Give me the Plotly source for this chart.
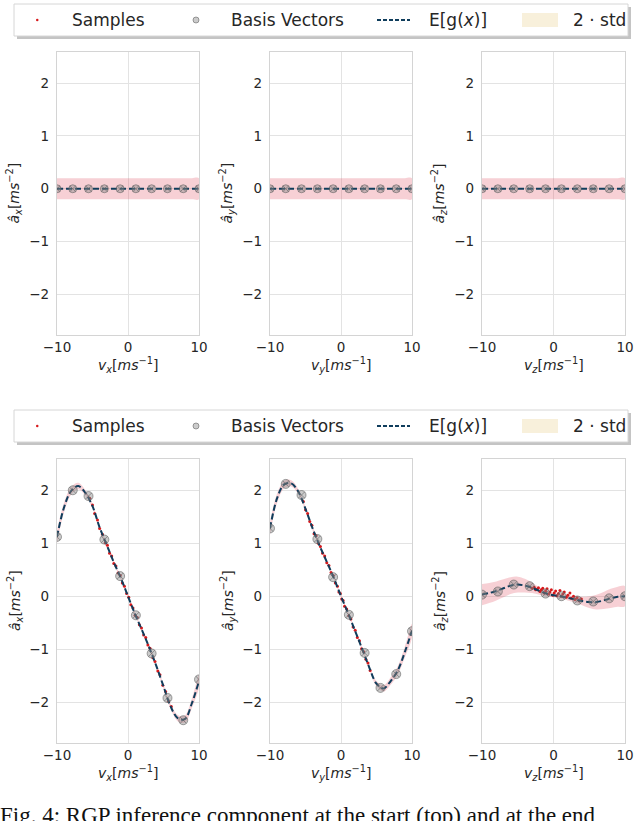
import plotly.graph_objects as go
from plotly.subplots import make_subplots

W, H = 640, 821

# ---- data ----
grid_v = [-10, -9, -8, -7, -6, -5, -4, -3, -2, -1, 0, 1, 2, 3, 4, 5, 6, 7, 8, 9, 10]
basis_v = [-10, -7.78, -5.56, -3.33, -1.11, 1.11, 3.33, 5.56, 7.78, 10]

# start of the run (top row): prior, nothing learned yet
start_mean = [0, 0, 0, 0, 0, 0, 0, 0, 0, 0, 0, 0, 0, 0, 0, 0, 0, 0, 0, 0, 0]
start_std2 = [0.2, 0.2, 0.2, 0.2, 0.2, 0.2, 0.2, 0.2, 0.2, 0.2, 0.2,
              0.2, 0.2, 0.2, 0.2, 0.2, 0.2, 0.2, 0.2, 0.2, 0.2]
start_basis = [0, 0, 0, 0, 0, 0, 0, 0, 0, 0]

# end of the run (bottom row)
end_mean_x = [1.12, 1.68, 1.99, 2.08, 1.95, 1.70, 1.30, 0.97, 0.64, 0.34, 0.0,
              -0.34, -0.65, -0.97, -1.32, -1.70, -2.08, -2.30, -2.32, -2.02, -1.60]
end_mean_y = [1.28, 1.85, 2.11, 2.13, 1.97, 1.65, 1.28, 0.95, 0.65, 0.34, 0.0,
              -0.32, -0.66, -1.00, -1.35, -1.65, -1.74, -1.60, -1.40, -1.05, -0.65]
end_mean_z = [0.03, 0.06, 0.10, 0.15, 0.20, 0.22, 0.20, 0.16, 0.10, 0.05, 0.02,
              0.0, -0.03, -0.06, -0.09, -0.11, -0.11, -0.08, -0.04, -0.01, 0.0]

end_std2_x = [0.12, 0.09, 0.07, 0.06, 0.05, 0.04, 0.04, 0.04, 0.03, 0.03, 0.03,
              0.03, 0.03, 0.03, 0.04, 0.04, 0.05, 0.06, 0.07, 0.09, 0.12]
end_std2_y = [0.12, 0.09, 0.07, 0.06, 0.05, 0.04, 0.04, 0.04, 0.03, 0.03, 0.03,
              0.03, 0.03, 0.03, 0.04, 0.05, 0.06, 0.07, 0.08, 0.10, 0.13]
end_std2_z = [0.20, 0.19, 0.18, 0.17, 0.16, 0.15, 0.13, 0.10, 0.07, 0.05, 0.04,
              0.04, 0.05, 0.06, 0.08, 0.11, 0.14, 0.16, 0.18, 0.19, 0.19]

end_basis_x = [1.12, 2.00, 1.89, 1.07, 0.38, -0.36, -1.08, -1.92, -2.34, -1.57]
end_basis_y = [1.28, 2.12, 1.91, 1.08, 0.36, -0.35, -1.07, -1.73, -1.47, -0.66]
end_basis_z = [0.03, 0.09, 0.22, 0.19, 0.05, 0.00, -0.08, -0.10, -0.04, 0.00]

samp_vx = [-5.4, -5.0, -4.7, -4.3, -4.0, -3.6, -3.2, -2.9, -2.6, -2.3, -2.0, -1.7,
           -1.4, -1.1, -0.8, -0.5, -0.2, 0.1, 0.4, 0.7, 1.0, 1.3, 1.6, 1.9,
           2.2, 2.5, 2.8, 3.1, 3.5, 3.8, 4.2, 4.5, 4.9, 5.3, 5.7, 6.1]
samp_ax = [1.85, 1.72, 1.56, 1.44, 1.28, 1.17, 1.01, 0.96, 0.81, 0.76, 0.62, 0.57,
           0.44, 0.39, 0.25, 0.19, 0.05, -0.02, -0.16, -0.22, -0.36, -0.40, -0.54, -0.60,
           -0.73, -0.78, -0.92, -0.98, -1.16, -1.23, -1.41, -1.48, -1.68, -1.80, -1.98, -2.08]

samp_vy = [-5.3, -5.0, -4.7, -4.4, -4.1, -3.8, -3.5, -3.2, -2.9, -2.6, -2.3, -2.0,
           -1.7, -1.4, -1.1, -0.8, -0.5, -0.3, -0.1, 0.1, 0.3, 0.5, 0.8, 1.1,
           1.4, 1.7, 2.0, 2.3, 2.6, 2.9, 3.2, 3.5, 3.8, 4.1]
samp_ay = [1.79, 1.63, 1.56, 1.41, 1.34, 1.18, 1.14, 1.00, 0.94, 0.81, 0.76, 0.63,
           0.58, 0.45, 0.39, 0.25, 0.19, 0.08, 0.05, -0.05, -0.08, -0.19, -0.24, -0.37,
           -0.43, -0.58, -0.64, -0.78, -0.84, -0.99, -1.05, -1.19, -1.26, -1.40]

samp_vz = [-3.0, -2.7, -2.5, -2.3, -2.1, -1.9, -1.7, -1.5, -1.3, -1.1, -0.9, -0.7,
           -0.5, -0.3, -0.1, 0.1, 0.3, 0.5, 0.7, 0.9, 1.1, 1.3, 1.5, 1.8,
           2.0, 2.3, 2.5, 2.8, 3.0, 3.3, 3.6, 3.9]
samp_az = [0.15, 0.17, 0.12, 0.13, 0.16, 0.09, 0.12, 0.15, 0.06, 0.10, 0.14, 0.04,
           0.08, 0.12, 0.02, 0.06, 0.10, 0.01, 0.05, 0.11, 0.00, 0.04, 0.08, -0.02,
           0.02, 0.06, -0.04, 0.00, -0.06, -0.03, -0.08, -0.05]

x_titles = ["<i>v</i><sub><i>x</i></sub>[<i>ms</i><sup>−1</sup>]",
            "<i>v</i><sub><i>y</i></sub>[<i>ms</i><sup>−1</sup>]",
            "<i>v</i><sub><i>z</i></sub>[<i>ms</i><sup>−1</sup>]"]
y_titles = ["<i>â</i><sub><i>x</i></sub>[<i>ms</i><sup>−2</sup>]",
            "<i>â</i><sub><i>y</i></sub>[<i>ms</i><sup>−2</sup>]",
            "<i>â</i><sub><i>z</i></sub>[<i>ms</i><sup>−2</sup>]"]

# ---- style ----
FONT = "DejaVu Sans"
TXT = "#262626"
RED = "#d7191c"
NAVY = "#0f3d5c"
BAND = "rgba(225,80,100,0.27)"
BEIGE = "#f8f0db"
GRID = "#e3e3e3"
FRAME = "#d4d4d4"
BASIS_FILL = "rgba(140,140,140,0.45)"
BASIS_EDGE = "rgba(90,90,90,0.55)"

# pixel boxes of the panels
cols_px = [(57, 199), (270, 412), (482, 625)]
rows_px = [(52, 335), (459, 743)]


def px_x(p):
    return p / W


def px_y(p):
    return 1 - p / H


fig = make_subplots(rows=2, cols=3)

rows = [
    dict(mean=[start_mean] * 3, std=[start_std2] * 3, basis=[start_basis] * 3,
         samples=None, msize=8),
    dict(mean=[end_mean_x, end_mean_y, end_mean_z],
         std=[end_std2_x, end_std2_y, end_std2_z],
         basis=[end_basis_x, end_basis_y, end_basis_z],
         samples=[(samp_vx, samp_ax), (samp_vy, samp_ay), (samp_vz, samp_az)], msize=9),
]

for r, row in enumerate(rows):
    for c in range(3):
        mean = row["mean"][c]
        std = row["std"][c]
        upper = [m + s for m, s in zip(mean, std)]
        lower = [m - s for m, s in zip(mean, std)]
        fig.add_trace(go.Scatter(
            x=grid_v + grid_v[::-1], y=upper + lower[::-1],
            fill="toself", fillcolor=BAND, mode="lines",
            line=dict(width=0, shape="spline"), showlegend=False, hoverinfo="skip",
        ), row=r + 1, col=c + 1)
        if row["samples"]:
            sx, sy = row["samples"][c]
            fig.add_trace(go.Scatter(
                x=sx, y=sy, mode="markers",
                marker=dict(color=RED, size=3), showlegend=False,
            ), row=r + 1, col=c + 1)
        fig.add_trace(go.Scatter(
            x=grid_v, y=mean, mode="lines",
            line=dict(color=NAVY, width=2, dash="6px,3px", shape="spline"),
            showlegend=False,
        ), row=r + 1, col=c + 1)
        fig.add_trace(go.Scatter(
            x=basis_v, y=row["basis"][c], mode="markers",
            marker=dict(symbol="circle-x", size=row["msize"], color=BASIS_FILL,
                        line=dict(color=BASIS_EDGE, width=1)),
            showlegend=False,
        ), row=r + 1, col=c + 1)

        x0, x1 = cols_px[c]
        y0, y1 = rows_px[r]
        fig.update_xaxes(
            domain=[px_x(x0), px_x(x1)], range=[-10, 10], automargin=False,
            tickvals=[-10, 0, 10], ticktext=["−10", "0", "10"],
            showgrid=True, gridcolor=GRID, gridwidth=1, zeroline=False,
            showline=True, mirror=True, linecolor=FRAME, linewidth=1.2,
            ticks="", tickfont=dict(family=FONT, size=13.5, color=TXT),
            row=r + 1, col=c + 1)
        fig.update_yaxes(
            domain=[px_y(y1), px_y(y0)], range=[-2.77, 2.59], automargin=False,
            tickvals=[-2, -1, 0, 1, 2], ticktext=["−2", "−1", "0", "1", "2"],
            showgrid=True, gridcolor=GRID, gridwidth=1, zeroline=False,
            showline=True, mirror=True, linecolor=FRAME, linewidth=1.2,
            ticks="", ticklabelstandoff=4,
            tickfont=dict(family=FONT, size=13.5, color=TXT),
            row=r + 1, col=c + 1)

        # axis titles
        fig.add_annotation(
            x=px_x((x0 + x1) / 2), y=px_y(y1 + 30), xref="paper", yref="paper",
            text=x_titles[c], showarrow=False, xanchor="center", yanchor="middle",
            font=dict(family=FONT, size=14, color=TXT))
        fig.add_annotation(
            x=px_x(x0 - 42), y=px_y((y0 + y1) / 2), xref="paper", yref="paper",
            text=y_titles[c], showarrow=False, textangle=-90,
            xanchor="center", yanchor="middle",
            font=dict(family=FONT, size=14, color=TXT))

# ---- legends (one box above each row) ----
shapes = []
for top in (4, 410):
    mid = top + 16
    shapes.append(dict(type="rect", xref="paper", yref="paper",
                       x0=px_x(17), x1=px_x(631), y0=px_y(top + 35), y1=px_y(top + 3),
                       fillcolor="#c4c4c4", line=dict(width=0), layer="above"))
    shapes.append(dict(type="rect", xref="paper", yref="paper",
                       x0=px_x(14), x1=px_x(628), y0=px_y(top + 32), y1=px_y(top),
                       fillcolor="white", line=dict(color="#d6d6d6", width=1), layer="above"))
    # samples dot
    shapes.append(dict(type="circle", xref="paper", yref="paper",
                       x0=px_x(36), x1=px_x(38.5), y0=px_y(mid + 1.3), y1=px_y(mid - 1.3),
                       fillcolor=RED, line=dict(width=0), layer="above"))
    # basis vector marker
    shapes.append(dict(type="circle", xref="paper", yref="paper",
                       x0=px_x(193), x1=px_x(199), y0=px_y(mid + 3), y1=px_y(mid - 3),
                       fillcolor=BASIS_FILL, line=dict(color=BASIS_EDGE, width=1),
                       layer="above"))
    # mean line
    shapes.append(dict(type="line", xref="paper", yref="paper",
                       x0=px_x(377), x1=px_x(410), y0=px_y(mid), y1=px_y(mid),
                       line=dict(color=NAVY, width=2, dash="4px,2px"), layer="above"))
    # std patch
    shapes.append(dict(type="rect", xref="paper", yref="paper",
                       x0=px_x(522), x1=px_x(558), y0=px_y(mid + 7), y1=px_y(mid - 7),
                       fillcolor=BEIGE, line=dict(width=0), layer="above"))
    for label, xp in (("Samples", 70), ("Basis Vectors", 229),
                      ("E[g(<i>x</i>)]", 427), ("2 · std", 571)):
        fig.add_annotation(
            x=px_x(xp), y=px_y(mid), xref="paper", yref="paper", text=label,
            showarrow=False, xanchor="left", yanchor="middle",
            font=dict(family=FONT, size=17, color=TXT))

# figure caption, cut off by the page edge
fig.add_annotation(
    x=px_x(-2), y=px_y(801), xref="paper", yref="paper",
    text="Fig. 4: RGP inference component at the start (top) and at the end",
    showarrow=False, xanchor="left", yanchor="top",
    font=dict(family="Liberation Serif", size=23, color="#111111"))

fig.update_layout(
    width=W, height=H,
    margin=dict(l=0, r=0, t=0, b=0, autoexpand=False),
    plot_bgcolor="white", paper_bgcolor="white",
    shapes=shapes, showlegend=False,
)

# drop the browser's default page margin so the figure sits at (0, 0)
fig.write_html("out.html", config={"displayModeBar": False},
               post_script="document.body.style.margin='0';document.body.style.overflow='hidden';")
